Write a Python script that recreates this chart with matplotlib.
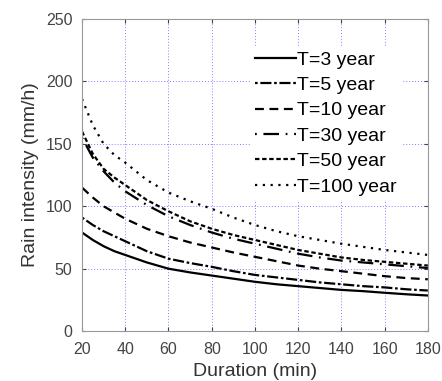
import matplotlib
matplotlib.use("Agg")
import matplotlib.pyplot as plt

plt.rcParams['font.family'] = ['Liberation Sans', 'DejaVu Sans']

# durations (min)
duration = [20, 25, 30, 35, 40, 50, 60, 70, 80, 90, 100, 110, 120, 130, 140, 150, 160, 170, 180]

# rain intensity (mm/h)
t3 = [79, 73, 68, 64, 61, 55, 50, 47, 44.5, 42, 39.5, 37.5, 36, 34.5, 33, 32, 30.7, 29.5, 28.5]
t5 = [91, 85, 80, 76, 72, 64, 58, 54.5, 51.5, 48, 45, 43, 41, 39, 37.5, 36, 35, 33.5, 32.5]
t10 = [115, 107, 100, 95, 90, 82, 76, 71, 67, 63, 59.5, 56, 52.5, 50, 48, 46, 44, 42.5, 41.5]
t30 = [155, 139, 128, 119, 112, 101, 92, 85, 79, 74, 70, 66, 62, 59, 56.5, 55, 53.5, 52, 50.5]
t50 = [160, 142, 130, 123, 117, 105, 96, 88, 82, 77, 73, 69, 65, 62, 59, 57, 55.5, 54, 52.5]
t100 = [186, 165, 150, 141, 135, 121, 111, 104, 98, 91, 85, 80, 76, 73, 70, 67.5, 65, 63, 61]

labels = ['T=3 year', 'T=5 year', 'T=10 year', 'T=30 year', 'T=50 year', 'T=100 year']
series = [t3, t5, t10, t30, t50, t100]
styles = ['-', (0, (1.2, 1.2, 5, 1.2)), (0, (4, 2.5)), (0, (0.8, 3, 7, 3)), (0, (2, 1.2)), (0, (1, 2.5))]

fig = plt.figure(figsize=(4.42, 3.81), dpi=100)
ax = fig.add_axes([0.1855, 0.131, 0.7825, 0.819])

for y, lab, ls in zip(series, labels, styles):
    ax.plot(duration, y, color='black', linestyle=ls, linewidth=1.6, label=lab)

ax.set_xlim(20, 180)
ax.set_ylim(0, 250)
ax.set_xticks(range(20, 181, 20))
ax.set_yticks(range(0, 251, 50))
ax.grid(True, color='#8080ff', linestyle=(0, (1, 2)), linewidth=0.7)
ax.tick_params(direction='in', length=3, labelsize=11.5, colors='#444444', top=True, right=True)
ax.tick_params(axis='x', pad=8)
ax.tick_params(axis='y', pad=7)
for sp in ax.spines.values():
    sp.set_color('#999999')

ax.set_xlabel('Duration (min)', fontsize=14, color='#333333', labelpad=4)
ax.set_ylabel('Rain intensity (mm/h)', fontsize=14, color='#333333', labelpad=5)

leg = ax.legend(loc='upper left', bbox_to_anchor=(0.49, 0.91), frameon=True, fontsize=14,
                handlelength=2.1, handletextpad=0.05, labelspacing=0.4, borderpad=0.2,
                borderaxespad=0)
leg.get_frame().set_edgecolor('white')
leg.get_frame().set_facecolor('white')
leg.get_frame().set_alpha(1)
leg.get_frame().set_boxstyle('square', pad=0)

fig.savefig('out.png', dpi=100)
